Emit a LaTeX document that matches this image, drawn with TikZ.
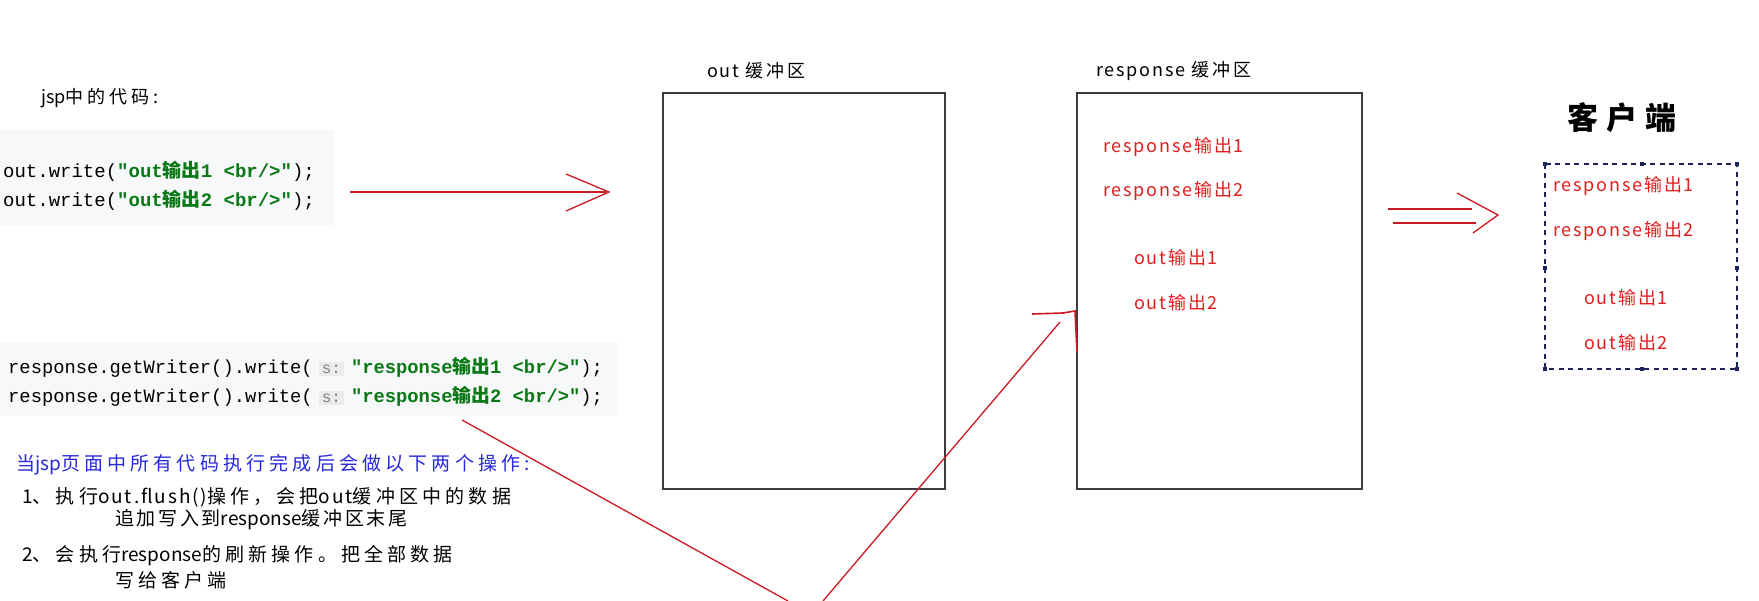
\documentclass[tikz,border=0pt]{standalone}
\usepackage{fontspec}
\setmainfont{Liberation Sans}
\newfontfamily\lbl[LetterSpace=10]{Noto Sans CJK SC}
\newfontfamily\note[LetterSpace=22]{Noto Sans CJK SC}
\newfontfamily\notenar[LetterSpace=14]{Noto Sans CJK SC}
\newfontfamily\notelat{Noto Sans CJK SC}
\newfontfamily\notelatw[LetterSpace=10]{Noto Sans CJK SC}
\newfontfamily\cjk{Noto Sans CJK SC}
\newfontfamily\codefont{Liberation Mono}
\definecolor{redln}{RGB}{205,25,35}
\definecolor{redtx}{RGB}{225,30,30}
\definecolor{boxln}{RGB}{60,60,60}
\definecolor{codegreen}{RGB}{10,120,20}
\definecolor{codebg}{RGB}{246,248,250}
\definecolor{hintbg}{RGB}{235,235,235}
\definecolor{hintfg}{RGB}{130,130,130}
\definecolor{bluetx}{RGB}{40,40,220}
\definecolor{navy}{RGB}{30,35,90}
\newcommand{\fsz}[1]{\fontsize{#1}{#1}\selectfont}
\newcommand{\gstr}[1]{\textcolor{codegreen}{\bfseries #1}}
\newcommand{\hint}{{\setlength{\fboxsep}{3pt}\colorbox{hintbg}{\textcolor{hintfg}{\fsz{16}s:}}}}
\newcommand{\lt}[1]{{\notelat #1}}
\newcommand{\ltw}[1]{{\notelatw #1}}
\newcommand{\wide}[1]{{\addfontfeature{LetterSpace=18}#1}}
\begin{document}
\begin{tikzpicture}[x=1pt,y=-1pt,
  txt/.style={inner sep=0pt,anchor=west},
  lbltxt/.style={txt,font=\lbl\fsz{18}},
  redtext/.style={txt,font=\lbl\fsz{18},text=redtx},
  notetxt/.style={txt,font=\note\fsz{19}},
  codetxt/.style={txt,font=\codefont\fsz{19}},
  rcodetxt/.style={txt,font=\codefont\fsz{18.8}},
  bufbox/.style={draw=boxln,line width=1.8pt},
  redline/.style={draw=redln,line width=1.3pt},
  handle/.style={fill=navy,minimum size=4pt,inner sep=0pt}]
\useasboundingbox (0,0) rectangle (1759,601);
\fill[white] (0,0) rectangle (1759,601);

% code backgrounds
\fill[codebg] (0,130) rectangle (335,225);
\fill[codebg] (0,342) rectangle (618,416);

% left texts
\node[notetxt,font=\note\fsz{18}] (jsp) at (41,98) {\lt{jsp}中的代码:};
\node[codetxt] (c1) at (3,171) {out.write(\gstr{"out{\cjk 输出}1 <br/>"});};
\node[codetxt] (c2) at (3,200) {out.write(\gstr{"out{\cjk 输出}2 <br/>"});};
\node[rcodetxt] (r1) at (8,367) {response.getWriter().write(\hspace{6pt}\hint\hspace{7pt}\gstr{"response{\cjk 输出}1 <br/>"});};
\node[rcodetxt] (r2) at (8,396) {response.getWriter().write(\hspace{6pt}\hint\hspace{7pt}\gstr{"response{\cjk 输出}2 <br/>"});};

\node[notetxt,text=bluetx] (n0) at (16,465) {当\lt{jsp}页面中所有代码执行完成后会做以下两个操作:};
\node[notetxt] (n1) at (22,497) {\lt{1}、执行\ltw{out.flush()}操作，会把\ltw{out}缓冲区中的数据};
\node[notetxt,font=\notenar\fsz{19}] (n2) at (115,520) {追加写入到\lt{response}缓冲区末尾};
\node[notetxt] (n3) at (22,556) {\lt{2}、会执行\lt{response}的刷新操作。把全部数据};
\node[notetxt] (n4) at (115,580) {写给客户端};

% buffers
\node[lbltxt] (outlbl) at (707,71) {out \wide{缓冲区}};
\node[lbltxt] (resplbl) at (1096,71) {response \wide{缓冲区}};
\draw[bufbox] (663,93) rectangle (945,489);
\draw[bufbox] (1077,93) rectangle (1362,489);
\node[redtext] (rb1) at (1103,147) {response输出1};
\node[redtext] (rb2) at (1103,191) {response输出2};
\node[redtext] (rb3) at (1134,258) {out输出1};
\node[redtext] (rb4) at (1134,303) {out输出2};

% client
\node[inner sep=0pt,font=\cjk\bfseries\fsz{31}] (client) at (1622,118) {\addfontfeature{LetterSpace=25}客户端};
\draw[navy,line width=1.2pt,dash pattern=on 5pt off 4.5pt] (1545,164) rectangle (1737,369);
\foreach \p in {(1545,164),(1642,164),(1737,164),(1545,268),(1737,268),(1545,369),(1642,369),(1737,369)}
  \node[handle] at \p {};
\node[redtext] (cb1) at (1553,186) {response输出1};
\node[redtext] (cb2) at (1553,231) {response输出2};
\node[redtext] (cb3) at (1584,298) {out输出1};
\node[redtext] (cb4) at (1584,343) {out输出2};

% arrow 1 (out code -> out buffer)
\coordinate (a1s) at (350,192);
\coordinate (a1e) at (606,192);
\coordinate (a1u) at (566,174);
\coordinate (a1t) at (609,192);
\coordinate (a1d) at (566,211);
\draw[redline] (a1s) -- (a1e);
\draw[redline] (a1u) -- (a1t) -- (a1d);

% response lines
\coordinate (l1s) at (462,420);
\coordinate (l1e) at (788,601);
\coordinate (l2s) at (823,601);
\coordinate (l2e) at (1060,322);
\draw[redline] (l1s) -- (l1e);
\draw[redline] (l2s) -- (l2e);
\coordinate (h1) at (1032,314);
\coordinate (h2) at (1063,313);
\coordinate (h3) at (1075,311);
\coordinate (h4) at (1077,352);
\draw[redline,line width=1.6pt] (h1) -- (h2) -- (h3) -- (h4);

% double arrow
\coordinate (d1s) at (1388,209);
\coordinate (d1e) at (1472,209);
\coordinate (d2s) at (1393,223);
\coordinate (d2e) at (1476,223);
\coordinate (dhu) at (1457,193);
\coordinate (dht) at (1498,215);
\coordinate (dhd) at (1473,233);
\draw[redline] (d1s) -- (d1e);
\draw[redline] (d2s) -- (d2e);
\draw[redline] (dhu) -- (dht) -- (dhd);
\end{tikzpicture}
\end{document}
